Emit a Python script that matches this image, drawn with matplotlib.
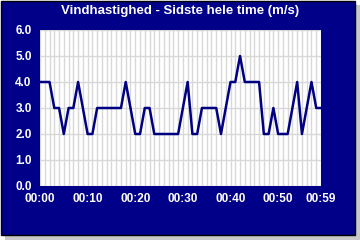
import matplotlib
matplotlib.use("Agg")
import matplotlib.pyplot as plt
from matplotlib.patches import Rectangle
import numpy as np

minutes = list(range(60))
speed = [4, 4, 4, 3, 3, 2, 3, 3, 4, 3,
         2, 2, 3, 3, 3, 3, 3, 3, 4, 3,
         2, 2, 3, 3, 2, 2, 2, 2, 2, 2,
         3, 4, 2, 2, 3, 3, 3, 3, 2, 3,
         4, 4, 5, 4, 4, 4, 4, 2, 2, 3,
         2, 2, 2, 3, 4, 2, 3, 4, 3, 3]
xtick_pos = [0, 10, 20, 30, 40, 50, 59]
xtick_labels = ["00:00", "00:10", "00:20", "00:30", "00:40", "00:50", "00:59"]
ytick_vals = [0, 1, 2, 3, 4, 5, 6]
title = "Vindhastighed - Sidste hele time (m/s)"

W, H = 360, 240
navy = "#000088"
fig = plt.figure(figsize=(W / 100, H / 100), dpi=100)
fig.patch.set_facecolor("white")

# shadow and navy box
fig.patches.append(Rectangle((5 / W, 0), (W - 5) / W, (H - 5) / H,
                             transform=fig.transFigure, facecolor="#c8c8c8",
                             edgecolor="none", zorder=-3))
fig.patches.append(Rectangle((0.5 / W, 5.5 / H), 354 / W, 234 / H,
                             transform=fig.transFigure, facecolor=navy,
                             edgecolor="black", linewidth=1.0, zorder=-2))

left, right, top, bottom = 40, 321, 30, 186
ax = fig.add_axes([left / W, 1 - bottom / H, (right - left) / W, (bottom - top) / H])
ax.set_facecolor("white")
ax.set_xlim(0, 59)
ax.set_ylim(0, 6)
for s in ax.spines.values():
    s.set_visible(False)

ax.set_xticks(minutes, minor=True)
ax.set_xticks(xtick_pos)
ax.set_xticklabels(xtick_labels)
ax.set_yticks(ytick_vals)
ax.set_yticklabels([f"{v:.1f}" for v in ytick_vals])
ax.grid(True, which="both", color="#d8d8d8", linewidth=1.0)
ax.set_axisbelow(True)
ax.tick_params(which="both", length=0)
ax.tick_params(axis="x", pad=5, labelsize=8.5, labelcolor="white")
ax.tick_params(axis="y", pad=6, labelsize=8.5, labelcolor="white")
for lab in ax.get_xticklabels() + ax.get_yticklabels():
    lab.set_fontfamily("Liberation Sans")
    lab.set_fontweight("bold")

ax.plot(minutes, speed, color="#000080", linewidth=1.8, clip_on=False)

fig.text(180 / W, 1 - 11 / H, title, ha="center", va="center", color="white",
         fontsize=9.5, fontweight="bold", family="Liberation Sans")

fig.savefig("out.png", dpi=100, facecolor=fig.get_facecolor())
